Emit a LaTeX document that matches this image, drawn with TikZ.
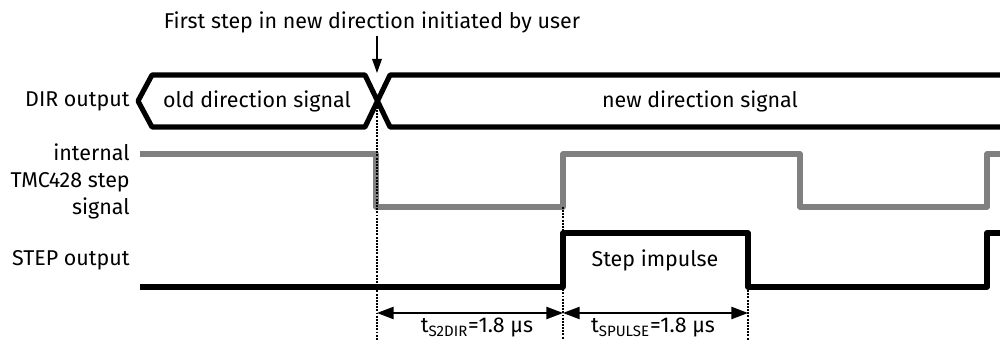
\documentclass[tikz,border=0pt]{standalone}
\usepackage{fontspec}
\setmainfont{Fira Sans}
\usetikzlibrary{arrows.meta,positioning}
\definecolor{stepgray}{RGB}{128,128,128}

\begin{document}
\begin{tikzpicture}[x=0.02cm,y=-0.02cm,
  font=\fontsize{12.2}{15.4}\selectfont,
  bus/.style={line width=2.9pt, line join=round},
  sigline/.style={line width=2.9pt, line join=round},
  marker/.style={line width=0.8pt, dash pattern=on 1.1pt off 0.7pt},
  dimarrow/.style={line width=0.8pt, {Triangle[length=9.5pt,width=7pt]}-{Triangle[length=9.5pt,width=7pt]}},
  lbl/.style={anchor=east, align=right, inner sep=0pt}]
\useasboundingbox (0,0) rectangle (1000,340);

% time marks
\coordinate (tdir) at (377,101);
\coordinate (trise) at (563,287);
\coordinate (tfall) at (748,287);

% title with arrow down to the direction change
\node (title) at (372,22) {First step in new direction initiated by user};
\coordinate (xtop) at (377,73);
\draw[line width=0.8pt, -{Triangle[length=8pt,width=5.5pt]}] (xtop |- 0,36) -- (xtop);

% DIR output bus
\draw[bus] (1005,75) -- (390,75) -- (365,127) -- (152,127) -- (138,101)
  -- (152,75) -- (365,75) -- (390,127) -- (1005,127);
\node[lbl] (dirlbl) at (130,101) {DIR output};
\node (olddir) at (257,101) {old direction signal};
\node (newdir) at (700,101) {new direction signal};

% internal step signal
\draw[sigline, stepgray] (140,154) -- (376,154) -- (376,207) -- (563,207) -- (563,154)
  -- (800,154) -- (800,207) -- (987,207) -- (987,154) -- (1005,154);
\node[lbl] (intlbl) at (130,181) {internal\\TMC428 step\\signal};

% STEP output
\draw[sigline] (140,287) -- (trise) -- (563,233) -- (748,233) -- (tfall)
  -- (987,287) -- (987,233) -- (1005,233);
\node[lbl] (steplbl) at (130,260) {STEP output};
\node (impulse) at (655,260) {Step impulse};

% dotted markers
\draw[marker] (377,107) -- (377,340);
\draw[marker] (563,207) -- (563,340);
\draw[marker] (tfall) -- (748,340);

% timing dimensions
\coordinate (da) at (377,313);
\coordinate (db) at (563,313);
\coordinate (dc) at (748,313);
\draw[dimarrow] (da) -- (db);
\draw[dimarrow] (db) -- (dc);
\node (ts2dir) at (477,328) {t\textsubscript{S2DIR}=1.8 µs};
\node (tspulse) at (653,328) {t\textsubscript{SPULSE}=1.8 µs};
\end{tikzpicture}
\end{document}
